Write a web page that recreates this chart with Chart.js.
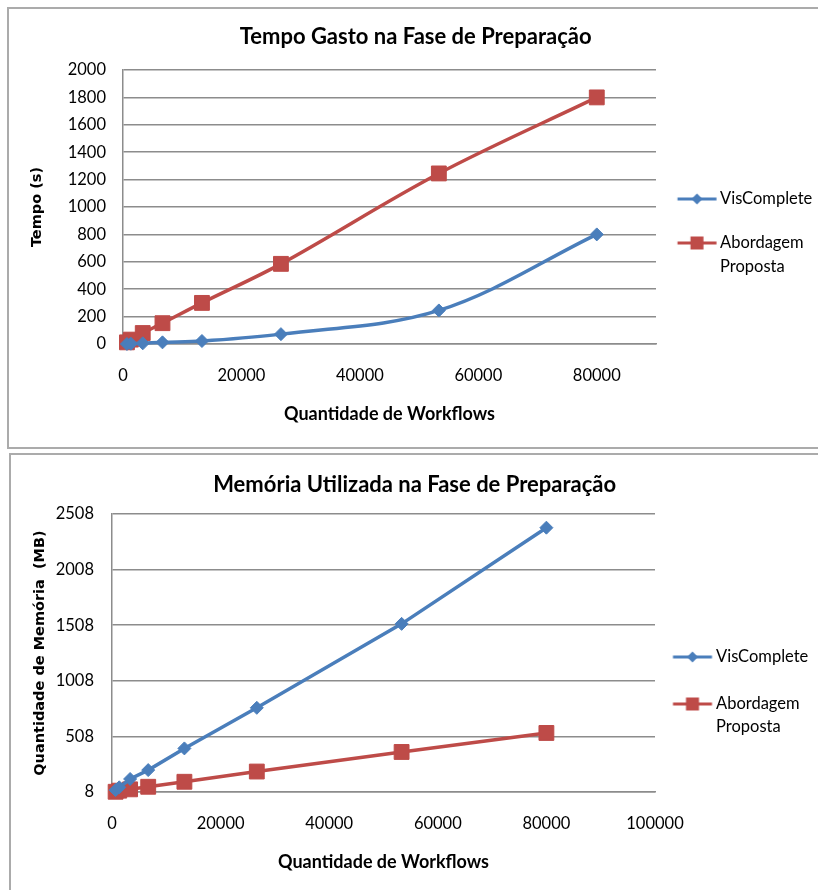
<!DOCTYPE html>
<html>
<head>
<meta charset="utf-8">
<title>Fase de Preparação</title>
<script src="https://cdn.jsdelivr.net/npm/chart.js@4.4.1/dist/chart.umd.min.js"></script>
<style>
  html, body { margin: 0; padding: 0; background: #fff; overflow: hidden; width: 818px; height: 890px; }
  .frame { position: absolute; border: 2px solid #ababab; }
  #f1 { left: 7px; top: 7px; width: 820px; height: 438px; }
  #f2 { left: 9px; top: 453px; width: 820px; height: 440px; }
  canvas { display: block; }
</style>
</head>
<body>
<div class="frame" id="f1"><canvas id="c1" width="820" height="438"></canvas></div>
<div class="frame" id="f2"><canvas id="c2" width="820" height="440"></canvas></div>
<script>
// Number of workflows processed in each run (shared x values)
const workflows = [667, 1333, 3333, 6667, 13333, 26667, 53333, 80000];

const seriesNames = ['VisComplete', 'Abordagem Proposta'];
const legendText = ['VisComplete', ['Abordagem', 'Proposta']];

// Time spent in the preparation phase (s)
const timeVisComplete = [0, 2, 5, 12, 22, 72, 245, 800];
const timeProposta = [12, 32, 80, 152, 300, 585, 1245, 1800];

// Memory used in the preparation phase (MB)
const memVisComplete = [25, 50, 125, 205, 400, 765, 1520, 2385];
const memProposta = [10, 20, 32, 55, 100, 192, 368, 539];

// Axis ticks
const timeYTicks = [0, 200, 400, 600, 800, 1000, 1200, 1400, 1600, 1800, 2000];
const timeXTicks = [0, 20000, 40000, 60000, 80000];
const memYTicks = [8, 508, 1008, 1508, 2008, 2508];
const memXTicks = [0, 20000, 40000, 60000, 80000, 100000];

const titles = {
  time: 'Tempo Gasto na Fase de Preparação',
  mem: 'Memória Utilizada na Fase de Preparação',
  timeY: 'Tempo (s)',
  memY: 'Quantidade de Memória  (MB)',
  x: 'Quantidade de Workflows'
};

const BLUE = '#4a7ebb';
const RED = '#be4b48';
const GRID = '#8c8c8c';
const TEXT = '#000000';
const FS = 16.5;
const TITLE_FS = 22;
const XTITLE_FS = 18;
const YTITLE_FS = 14.5;
const YTITLE_FAMILY = '"DejaVu Sans", Verdana, sans-serif';

Chart.defaults.font.family = 'Lato';
Chart.defaults.color = TEXT;

function legendIcon(color, style, dx) {
  const c = document.createElement('canvas');
  c.width = 90; c.height = 22;
  const g = c.getContext('2d');
  const cx = 45 + dx, cy = 11;
  g.strokeStyle = color; g.lineWidth = 3;
  g.beginPath(); g.moveTo(cx - 19.5, cy); g.lineTo(cx + 19.5, cy); g.stroke();
  g.fillStyle = color;
  g.beginPath();
  if (style === 'rectRot') {
    const r = 5.5;
    g.moveTo(cx - r, cy); g.lineTo(cx, cy - r); g.lineTo(cx + r, cy); g.lineTo(cx, cy + r);
  } else {
    g.rect(cx - 6.5, cy - 6.5, 13, 13);
  }
  g.closePath(); g.fill();
  return c;
}

function makeChart(canvasId, o) {
  const canvas = document.getElementById(canvasId);
  const W = canvas.width, H = canvas.height;
  const P = o.legendPadding;
  const itemX = o.plotRight + P;
  const boxW = o.legendTextX - FS / 2 - itemX;
  const dx = o.legendLineCenter - (itemX + boxW / 2);

  // widest legend entry, measured the way the legend does it
  const m = document.createElement('canvas').getContext('2d');
  m.font = FS + 'px Lato';
  let maxItem = 0;
  legendText.forEach(t => {
    const s = typeof t === 'string' ? t : t.reduce((a, b) => a.length > b.length ? a : b);
    maxItem = Math.max(maxItem, boxW + FS / 2 + m.measureText(s).width);
  });
  const legendWidth = P + maxItem + 10;
  const padRight = W - o.plotRight - legendWidth;
  const legendTitleH = o.legendFirstY - FS / 2 - o.plotTop - P;

  const icons = [legendIcon(BLUE, 'rectRot', dx), legendIcon(RED, 'rect', dx)];
  const titleLH = TITLE_FS * 1.2;
  const xTitleLH = XTITLE_FS * 1.2;
  const yTitleLH = YTITLE_FS * 1.2;

  const ds = (i, values, color, style, radius) => ({
    label: seriesNames[i],
    data: workflows.map((x, k) => ({ x: x, y: values[k] })),
    borderColor: color,
    backgroundColor: color,
    borderWidth: 3.5,
    pointStyle: style,
    pointRadius: radius,
    pointHoverRadius: radius,
    pointBorderWidth: 1,
    tension: o.tension,
    clip: false
  });

  return new Chart(canvas, {
    type: 'line',
    data: {
      datasets: [
        ds(0, o.blue, BLUE, 'rectRot', 6.5),
        ds(1, o.red, RED, 'rect', 10.5)
      ]
    },
    options: {
      responsive: false,
      animation: false,
      events: [],
      layout: { padding: { left: 0, top: 0, bottom: 0, right: padRight } },
      plugins: {
        tooltip: { enabled: false },
        title: {
          display: true,
          text: o.title,
          color: TEXT,
          font: { family: 'Lato', weight: 'bold', size: TITLE_FS, lineHeight: 1.2 },
          padding: { top: o.titleY - titleLH / 2, bottom: o.plotTop - o.titleY - titleLH / 2 }
        },
        legend: {
          position: 'right',
          align: 'start',
          fullSize: false,
          title: { display: true, text: '', font: { size: 1, lineHeight: 1 }, padding: { top: legendTitleH - 1, bottom: 0 } },
          labels: {
            usePointStyle: true,
            pointStyleWidth: boxW,
            padding: P,
            color: TEXT,
            font: { family: 'Lato', size: FS, lineHeight: o.legendLine / FS },
            generateLabels(chart) {
              const items = Chart.defaults.plugins.legend.labels.generateLabels(chart);
              items.forEach((it, i) => { it.text = legendText[i]; it.pointStyle = icons[i]; });
              return items;
            }
          }
        }
      },
      scales: {
        x: {
          type: 'linear',
          min: 0,
          max: o.xMax,
          afterFit(s) { s.height = H - o.plotBottom; },
          afterBuildTicks(s) { s.ticks = o.xTicks.map(v => ({ value: v })); },
          grid: { display: false, drawTicks: false },
          border: { display: true, color: GRID, width: 1.5 },
          ticks: {
            autoSkip: false, maxRotation: 0, padding: o.xTickPad,
            font: { family: 'Lato', size: FS }, color: TEXT,
            callback: v => String(v)
          },
          title: {
            display: true, text: titles.x, color: TEXT,
            font: { family: 'Lato', weight: 'bold', size: XTITLE_FS, lineHeight: 1.2 },
            padding: { top: 0, bottom: H - o.xTitleY - xTitleLH / 2 }
          }
        },
        y: {
          type: 'linear',
          min: o.yTicks[0],
          max: o.yTicks[o.yTicks.length - 1],
          afterFit(s) { s.width = o.plotLeft; },
          afterBuildTicks(s) { s.ticks = o.yTicks.map(v => ({ value: v })); },
          grid: { display: true, drawTicks: false, color: GRID, lineWidth: 1.5 },
          border: { display: true, color: GRID, width: 1.5 },
          ticks: {
            padding: o.plotLeft - o.yLabelRight,
            font: { family: 'Lato', size: FS }, color: TEXT,
            callback: v => String(v)
          },
          title: {
            display: true, text: o.yTitle, color: TEXT,
            font: { family: YTITLE_FAMILY, weight: 'bold', size: YTITLE_FS, lineHeight: 1.2 },
            padding: { top: o.yTitleX - yTitleLH / 2, bottom: 0 }
          }
        }
      }
    }
  });
}

// Tempo gasto
makeChart('c1', {
  title: titles.time, yTitle: titles.timeY,
  blue: timeVisComplete, red: timeProposta,
  xTicks: timeXTicks, yTicks: timeYTicks, xMax: 90000,
  tension: 0.35,
  plotLeft: 114, plotRight: 647, plotTop: 61, plotBottom: 335,
  titleY: 28, xTickPad: 22, xTitleY: 405, yLabelRight: 97, yTitleX: 28,
  legendPadding: 27.5, legendFirstY: 190, legendLine: 24,
  legendTextX: 711, legendLineCenter: 688
});

// Memória utilizada
makeChart('c2', {
  title: titles.mem, yTitle: titles.memY,
  blue: memVisComplete, red: memProposta,
  xTicks: memXTicks, yTicks: memYTicks, xMax: 100000,
  tension: 0,
  plotLeft: 101, plotRight: 644, plotTop: 59, plotBottom: 337,
  titleY: 30, xTickPad: 22, xTitleY: 407, yLabelRight: 83, yTitleX: 29,
  legendPadding: 30.5, legendFirstY: 202, legendLine: 23,
  legendTextX: 705, legendLineCenter: 681.5
});
</script>
</body>
</html>
